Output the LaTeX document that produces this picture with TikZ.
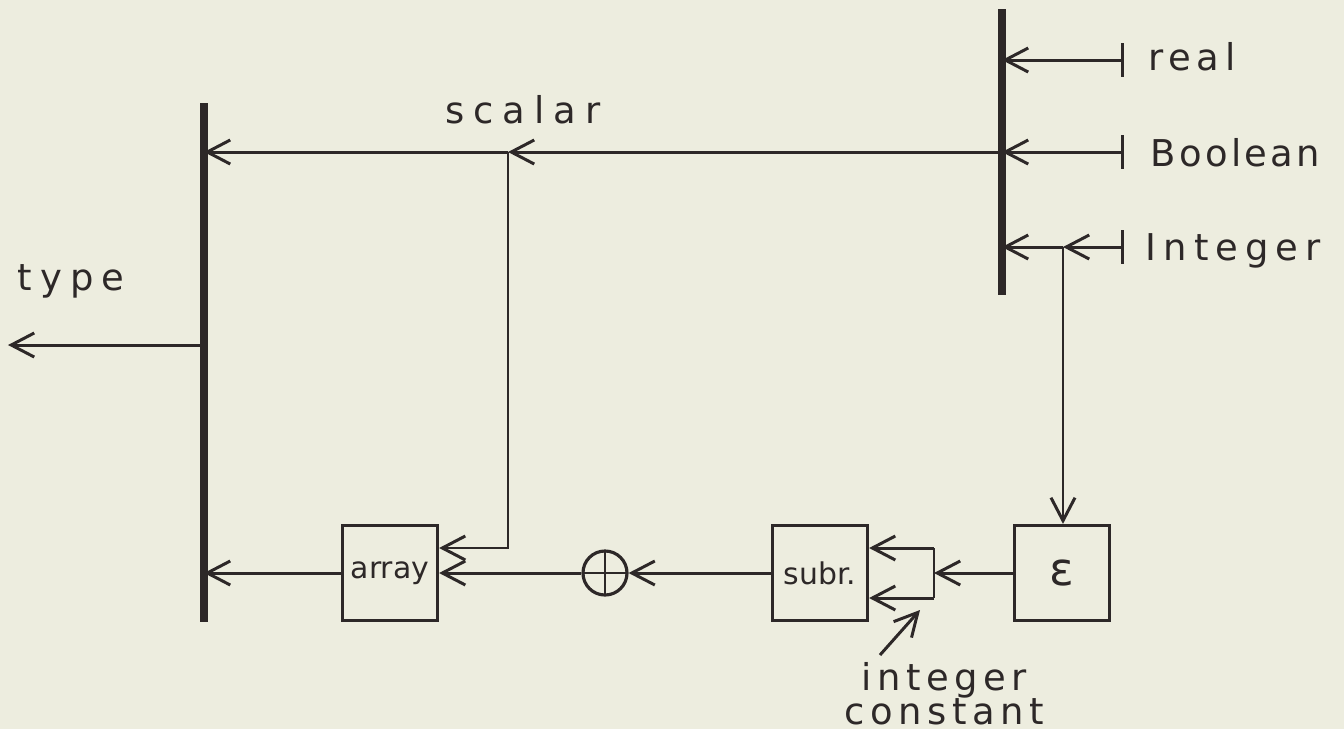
\documentclass[tikz,border=0pt]{standalone}
\usepackage{fontspec}
\setmainfont{DejaVu Sans}
\usepackage{xcolor}
\usepackage{tikz}
\usetikzlibrary{arrows.meta, positioning}
\definecolor{paper}{RGB}{237,237,223}
\definecolor{ink}{RGB}{45,40,40}
\newcommand{\hand}[1]{\fontsize{10.5}{9.7}\selectfont\addfontfeatures{LetterSpace=#1}}
\tikzstyle{box} = [rectangle, draw=ink, line width=0.9pt, minimum width=0.95cm, minimum height=0.95cm, inner sep=0pt, text=ink, font=\fontsize{8.5}{10}\selectfont]
\tikzstyle{adder} = [circle, draw=ink, line width=0.9pt, minimum size=0.44cm, inner sep=0pt, path picture={\draw[ink, line width=0.8pt] (path picture bounding box.north) -- (path picture bounding box.south) (path picture bounding box.west) -- (path picture bounding box.east);}]
\tikzstyle{tag} = [text=ink, inner sep=0pt, font=\hand{15}]
\tikzstyle{bus} = [draw=ink, line width=2.1pt]
\tikzstyle{wire} = [draw=ink, line width=0.85pt]
\tikzstyle{arrow} = [wire, -{Straight Barb[length=2.3mm,width=2.4mm]}]
\tikzstyle{fed} = [wire, {Bar[width=3.4mm]}-{Straight Barb[length=2.3mm,width=2.4mm]}]

\begin{document}
\begin{tikzpicture}[x=0.01cm, y=-0.01cm]
    \useasboundingbox (0,0) rectangle (1344,729);
    \fill[paper] (0,0) rectangle (1344,729);

    % buses
    \coordinate (lbtop) at (204,103);
    \coordinate (lbbot) at (204,622);
    \coordinate (rbtop) at (1002,9);
    \coordinate (rbbot) at (1002,295);
    \draw[bus] (lbtop) -- (lbbot);
    \draw[bus] (rbtop) -- (rbbot);

    % blocks
    \node (arr) [box] at (390,573) {array};
    \node (plus) [adder] at (605,573) {};
    \node (subr) [box] at (820,573) {subr.};
    \node (eps) [box, font=\fontsize{13}{15}\selectfont] at (1062,573) {ε};

    % inputs
    \coordinate (treal) at (1124,60);
    \coordinate (tbool) at (1124,152);
    \coordinate (tint) at (1124,247);
    \coordinate (ijn) at (1063,247);
    \node (real) [tag, anchor=base west] at (1148,70) {real};
    \node (bool) [tag, anchor=base west, font=\hand{9}] at (1150,166) {Boolean};
    \node (int) [tag, anchor=base west, font=\hand{19}] at (1145,260) {Integer};
    \draw[fed] (treal) -- (treal -| rbtop);
    \draw[fed] (tbool) -- (tbool -| rbtop);
    \draw[fed] (tint) -- (ijn);
    \draw[arrow] (ijn) -- (ijn -| rbtop);
    \draw[arrow] (ijn) -- (ijn |- eps.north);

    % scalar
    \coordinate (sj) at (508,152);
    \node (scal) [tag, anchor=base west, font=\hand{24}] at (445,123) {scalar};
    \draw[arrow] (sj -| rbtop) -- (sj);
    \draw[arrow] (sj) -- (sj -| lbtop);
    \draw[arrow] (sj) |- ([yshift=2.5mm]arr.east);

    % subscript chain
    \coordinate (kup) at (934,548);
    \coordinate (kdn) at (934,598);
    \draw[wire] (kup) -- (kdn);
    \draw[arrow] (eps.west) -- (eps.west -| kup);
    \draw[arrow] (kup) -- (kup -| subr.east);
    \draw[arrow] (kdn) -- (kdn -| subr.east);
    \draw[arrow] (subr.west) -- (plus.east);
    \draw[arrow] (plus.west) -- (arr.east);
    \draw[arrow] (arr.west) -- (arr.west -| lbtop);

    % output
    \coordinate (tyout) at (8,345);
    \node (type) [tag, anchor=base west, font=\hand{22}] at (17,290) {type};
    \draw[arrow] (tyout -| lbtop) -- (tyout);

    % integer constant
    \coordinate (kfoot) at (880,655);
    \coordinate (khead) at (920,610);
    \draw[arrow] (kfoot) -- (khead);
    \node (kconst) [tag, align=center, anchor=north] at (944,662) {integer\\constant};
\end{tikzpicture}
\end{document}
